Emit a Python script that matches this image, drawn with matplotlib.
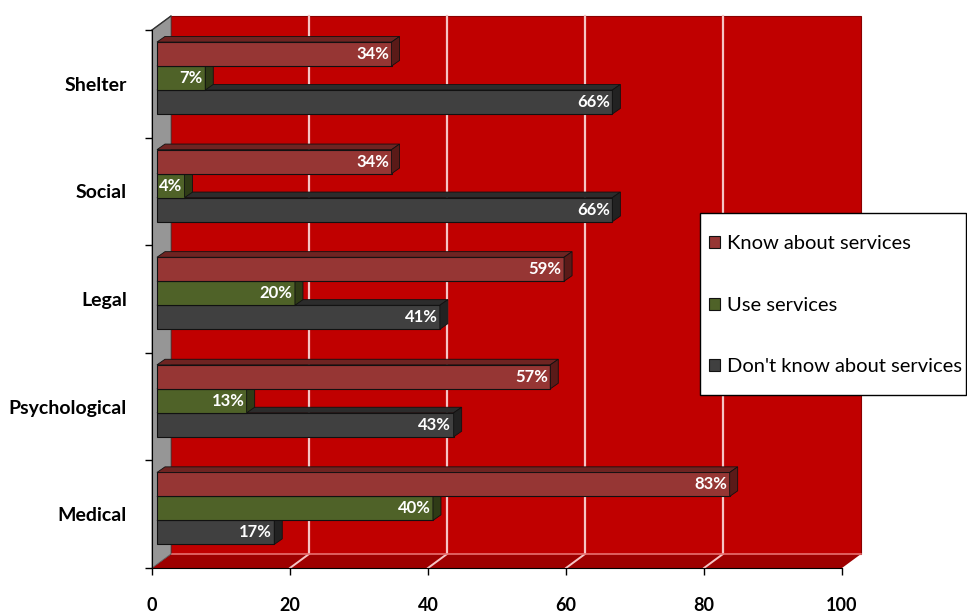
import numpy as np
import matplotlib
matplotlib.use("Agg")
import matplotlib.pyplot as plt
from matplotlib.patches import Polygon, Rectangle

plt.rcParams['font.family'] = ['Lato', 'DejaVu Sans']

categories = ["Medical", "Psychological", "Legal", "Social", "Shelter"]
know = [83, 57, 59, 34, 34]
use = [40, 13, 20, 4, 7]
dont_know = [17, 43, 41, 66, 66]
series_names = ["Know about services", "Use services", "Don't know about services"]
x_ticks = [0, 20, 40, 60, 80, 100]

W, H = 967, 614
fig = plt.figure(figsize=(W / 100, H / 100), dpi=100)
ax = fig.add_axes([152 / W, (H - 568) / H, 690 / W, 538 / H])
ax.set_xlim(0, 100)
ax.set_ylim(-0.5, 4.5)

# 3D offsets in data units
wdx, wdy = 2.75, 0.13      # back wall
bdx, bdy = 1.16, 0.052     # bar depth
x0 = 0.72                   # bar front start

# walls and floor
ax.add_patch(Rectangle((wdx, -0.5 + wdy), 100, 5, fc='#C00000', ec='#8a0000', lw=0.8,
                       zorder=0, clip_on=False))
ax.add_patch(Polygon([(0, -0.5), (100, -0.5), (100 + wdx, -0.5 + wdy), (wdx, -0.5 + wdy)],
                     closed=True, fc='#9E0000', ec='none', zorder=0.6, clip_on=False))
ax.add_patch(Polygon([(0, -0.5), (0, 4.5), (wdx, 4.5 + wdy), (wdx, -0.5 + wdy)],
                     closed=True, fc='#969696', ec='#555555', lw=0.6, zorder=0.7, clip_on=False))
ax.plot([wdx, 100 + wdx], [-0.5 + wdy, -0.5 + wdy], color='#E87070', lw=1.2, zorder=0.65,
        clip_on=False)
ax.plot([0, wdx], [4.5, 4.5 + wdy], color='#333333', lw=1.0, zorder=0.8, clip_on=False)
for t in x_ticks[1:-1]:
    ax.plot([t + wdx, t + wdx], [-0.5 + wdy, 4.5 + wdy], color='#F6C4C4', lw=1.6, zorder=0.5,
            clip_on=False)
    ax.plot([t, t + wdx], [-0.5, -0.5 + wdy], color='#F6C4C4', lw=1.4, zorder=0.62,
            clip_on=False)

# bars
h = 0.223
ypos = np.arange(len(categories))
offsets = [0.388 - h / 2, 0.388 - 1.5 * h, 0.388 - 2.5 * h]
faces = ['#963634', '#4F6228', '#404040']
tops = ['#6E2422', '#3B4A1C', '#2C2C2C']
sides = ['#5A1A18', '#2F3B16', '#222222']
series = [know, use, dont_know]

for k in [2, 1, 0]:
    vals = series[k]
    z = 3 + (2 - k)
    bars = ax.barh(ypos + offsets[k], vals, height=h, left=x0, color=faces[k],
                   edgecolor='#111111', lw=0.8, zorder=z, label=series_names[k])
    for yi, v in zip(ypos + offsets[k], vals):
        top = yi + h / 2
        bot = yi - h / 2
        xe = x0 + v
        ax.add_patch(Polygon([(x0, top), (xe, top), (xe + bdx, top + bdy), (x0 + bdx, top + bdy)],
                             closed=True, fc=tops[k], ec='#111111', lw=0.6, zorder=z))
        ax.add_patch(Polygon([(xe, bot), (xe, top), (xe + bdx, top + bdy), (xe + bdx, bot + bdy)],
                             closed=True, fc=sides[k], ec='#111111', lw=0.6, zorder=z))
        ax.text(xe - 0.35, yi, f"{v}%", ha='right', va='center', color='white',
                fontsize=12, fontweight='bold', zorder=z + 0.5)

# axes styling
for s in ['top', 'right']:
    ax.spines[s].set_visible(False)
ax.spines['left'].set_zorder(10)
ax.spines['bottom'].set_zorder(10)
ax.set_xticks(x_ticks)
ax.set_xticklabels([str(t) for t in x_ticks], fontsize=13, fontweight='bold')
ax.tick_params(axis='x', length=5, width=1, pad=16)
ax.set_yticks(np.arange(-0.5, 5, 1))
ax.set_yticklabels([])
ax.tick_params(axis='y', length=5, width=1)
ax.set_yticks(ypos, minor=True)
ax.set_yticklabels(categories, minor=True, fontsize=14, fontweight='bold')
ax.tick_params(axis='y', which='minor', length=0, pad=18)

# legend
ax.add_patch(Rectangle((700 / W, 1 - 395 / H), 266 / W, 182 / H, transform=fig.transFigure,
                       fc='white', ec='black', lw=1, zorder=20, clip_on=False))
handles, labels = ax.get_legend_handles_labels()
order = [2, 1, 0]
leg = ax.legend([handles[i] for i in order], [labels[i] for i in order], loc='upper left',
                bbox_to_anchor=(709 / W, 1 - 235 / H), bbox_transform=fig.transFigure,
                frameon=False, borderpad=0, borderaxespad=0, handlelength=0.55,
                handleheight=0.55, handletextpad=0.35, labelspacing=2.22,
                prop={'size': 14.5})
leg.set_zorder(21)

fig.savefig("out.png", dpi=100, facecolor='white')
